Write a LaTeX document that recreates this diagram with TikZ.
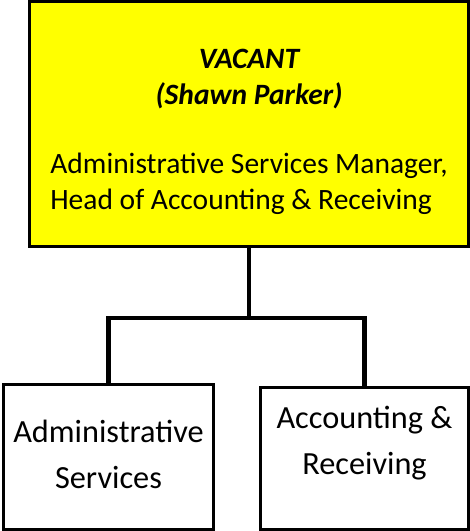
\documentclass[tikz,border=0pt]{standalone}
\usepackage{fontspec}
\setmainfont{Carlito}
\definecolor{headyellow}{RGB}{255,255,0}

\begin{document}
\begin{tikzpicture}[
    x=1pt, y=-1pt,
    head/.style={rectangle, draw=black, line width=3pt, fill=headyellow,
        minimum width=439pt, minimum height=244.5pt, inner sep=0pt},
    headtext/.style={align=center, inner sep=0pt,
        font=\fontsize{29.5}{36}\selectfont},
    unit/.style={rectangle, draw=black, line width=2.6pt, fill=white,
        inner sep=0pt},
    unittext/.style={align=center, inner sep=0pt,
        font=\fontsize{32.3}{46}\selectfont},
    link/.style={line width=4.5pt, -}
]
    \useasboundingbox (0,0) rectangle (470,531);
    \node[head] (mgr) at (249,123.75) {};
    \node[headtext] (mgrtext) at ([yshift=-11pt]mgr.center) {%
        {\bfseries\itshape VACANT}\\[0pt]
        {\bfseries\itshape (Shawn Parker)}\\[38pt]
        \begin{tabular}{@{}l@{}}Administrative Services Manager,\\
        Head of Accounting \& Receiving\end{tabular}};
    \node[unit, minimum width=210pt, minimum height=145pt] (adm) at (108.5,457) {};
    \node[unittext] (admtext) at ([yshift=3pt]adm.center) {Administrative\\Services};
    \node[unit, minimum width=208pt, minimum height=142pt] (acc) at (364.5,458.5) {};
    \node[unittext] (acctext) at ([yshift=15pt]acc.center) {Accounting \&\\Receiving};
    \coordinate (split) at (249,318);
    \draw[link] (mgr.south) -- (split);
    \draw[link] (split) -| (adm.north);
    \draw[link] (split) -| (acc.north);
\end{tikzpicture}
\end{document}
